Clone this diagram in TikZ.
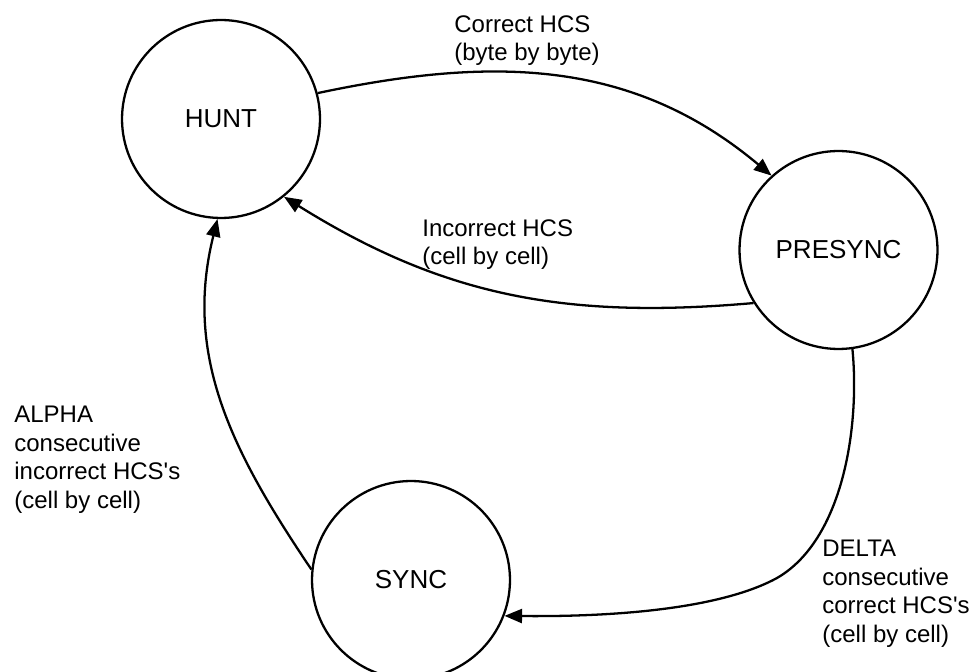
\documentclass[tikz,border=0pt]{standalone}
\usepackage{fontspec}
\setmainfont{Liberation Sans}[Ligatures=TeXOff]
\usetikzlibrary{arrows.meta}

\tikzset{
    state/.style={draw, circle, line width=1.3pt, minimum size=3.96cm, inner sep=0pt,
        font=\fontsize{14.8}{17}\selectfont},
    trans/.style={line width=1.3pt, -{Triangle[length=10pt,width=8pt]}},
    lbl/.style={anchor=base west, align=left, inner sep=0pt,
        font=\fontsize{13.66}{16.2}\selectfont}
}

\begin{document}
\begin{tikzpicture}[x=0.02cm,y=0.02cm]
    \useasboundingbox (0,0) rectangle (974,-672);

    \node[state] (hunt) at (221,-119) {HUNT};
    \node[state] (presync) at (838.5,-250) {PRESYNC};
    \node[state] (sync) at (411,-580) {SYNC};

    \draw[trans] (hunt.15) to[out=12,in=140] (presync.132);
    \draw[trans] (presync.212) to[out=185,in=-32] (hunt.-51);
    \draw[trans] (presync.-82) .. controls (860,-427) and (843,-540) .. (777,-578)
        .. controls (722,-608) and (620,-617) .. (sync.-21);
    \draw[trans] (sync.174) to[out=124,in=-104] (hunt.-92);

    % labels: anchor is the baseline of the last line
    \node[lbl] (correctlbl) at (454,-61) {Correct HCS\\(byte by byte)};
    \node[lbl] (incorrectlbl) at (422,-265) {Incorrect HCS\\(cell by cell)};
    \node[lbl] (alphalbl) at (14,-508) {ALPHA\\consecutive\\incorrect HCS's\\(cell by cell)};
    \node[lbl] (deltalbl) at (822,-642) {DELTA\\consecutive\\correct HCS's\\(cell by cell)};
\end{tikzpicture}
\end{document}
